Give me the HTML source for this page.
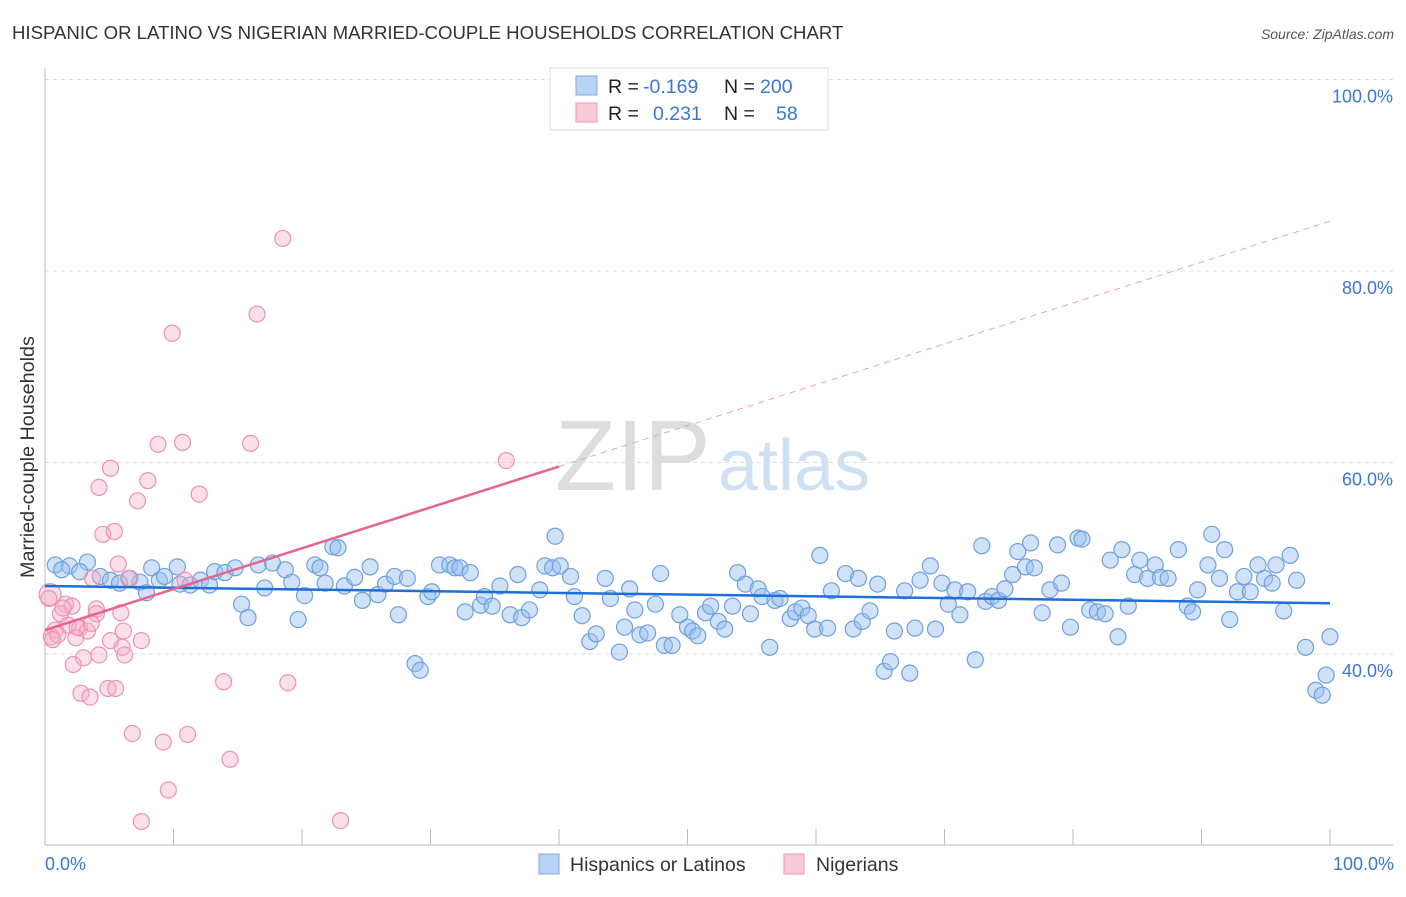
<!DOCTYPE html>
<html><head><meta charset="utf-8"><style>
body{margin:0;background:#fff;font-family:"Liberation Sans",sans-serif;}
svg text{font-family:"Liberation Sans",sans-serif;}
</style></head><body>
<svg id="chart" width="1406" height="892">
<text x="12" y="39" font-size="18.6" fill="#333">HISPANIC OR LATINO VS NIGERIAN MARRIED-COUPLE HOUSEHOLDS CORRELATION CHART</text>
<text x="1394" y="39" font-size="14" fill="#555" text-anchor="end" font-style="italic">Source: ZipAtlas.com</text>
<text x="555" y="490" font-size="100" fill="#ddd" font-family="Liberation Serif">ZIP</text>
<text x="718" y="490" font-size="72" fill="#cfe0f3">atlas</text>
<g id="grid"></g>
<g id="axes"></g>
<g id="pts"></g>
<g id="trends"></g>
<text transform="translate(34,457) rotate(-90)" font-size="19.8" fill="#333" text-anchor="middle">Married-couple Households</text>
<text x="45" y="870" font-size="18" fill="#3a78d0">0.0%</text>
<text x="1394" y="870" font-size="18" fill="#3a78d0" text-anchor="end">100.0%</text>
<g>
<rect x="550" y="68" width="278" height="62" fill="#fff" stroke="#ddd"/>
<rect x="576" y="76" width="21" height="19" fill="#b9d3f5" stroke="#7fa9e3"/>
<rect x="576" y="103" width="21" height="19" fill="#fbc9d8" stroke="#ee9bb4"/>
<text x="608" y="93" font-size="19.5" fill="#222">R = </text><text x="643" y="93" font-size="19.5" fill="#3a78d0">-0.169</text>
<text x="724" y="93" font-size="19.5" fill="#222">N = </text><text x="760" y="93" font-size="19.5" fill="#3a78d0">200</text>
<text x="608" y="120" font-size="19.5" fill="#222">R = </text><text x="653" y="120" font-size="19.5" fill="#3a78d0">0.231</text>
<text x="724" y="120" font-size="19.5" fill="#222">N = </text><text x="776" y="120" font-size="19.5" fill="#3a78d0">58</text>
</g>
<g>
<rect x="539" y="854" width="20" height="20" fill="#b9d3f5" stroke="#7fa9e3"/>
<text x="570" y="871" font-size="19.5" fill="#333">Hispanics or Latinos</text>
<rect x="784" y="854" width="20" height="20" fill="#fbc9d8" stroke="#ee9bb4"/>
<text x="816" y="871" font-size="19.5" fill="#333">Nigerians</text>
</g>
</svg>
<script>
const yTicks=[40,60,80,100];
const yTickLabels=["40.0%","60.0%","80.0%","100.0%"];
const xTicks=[0,10,20,30,40,50,60,70,80,90,100];
const blueX=[0.8,1.9,3.3,2.7,1.3,4.3,5.1,5.8,6.6,7.4,7.9,8.3,8.9,9.3,10.3,10.5,11.3,12.1,12.8,13.2,14.0,14.8,15.3,15.8,16.6,17.1,17.7,18.7,19.2,19.7,20.2,21.0,21.4,22.4,22.8,21.8,23.3,24.1,24.7,25.3,25.9,26.5,27.2,27.5,28.2,28.8,29.2,29.8,30.1,30.7,31.5,31.9,32.3,32.7,33.1,33.9,34.2,34.8,35.4,36.2,36.8,37.1,37.7,38.5,38.9,39.5,39.7,40.1,40.9,41.2,41.8,42.4,42.9,43.6,44.0,44.7,45.1,45.5,45.9,46.3,46.9,47.5,47.9,48.2,48.8,49.4,50.0,50.4,50.8,51.4,51.8,52.4,52.9,53.5,53.9,54.5,54.9,55.5,55.8,56.4,56.8,57.2,58.0,58.4,58.9,59.4,59.9,60.3,60.9,61.2,62.3,62.9,63.3,63.6,64.2,64.8,65.3,65.8,66.1,66.9,67.3,67.7,68.1,68.9,69.3,69.8,70.3,70.8,71.2,71.8,72.4,72.9,73.2,73.7,74.2,74.7,75.3,75.7,76.3,76.7,77.0,77.6,78.2,78.8,79.1,79.8,80.4,80.7,81.3,81.9,82.5,82.9,83.5,83.8,84.3,84.8,85.2,85.8,86.4,86.8,87.4,88.2,88.9,89.3,89.7,90.5,90.8,91.4,91.8,92.2,92.8,93.3,93.8,94.4,94.9,95.5,95.8,96.4,96.9,97.4,98.1,98.9,99.4,99.7,100];
const blueY=[49.3,49.2,49.6,48.6,48.8,48.1,47.7,47.4,47.9,47.5,46.4,49.0,47.7,48.1,49.1,47.3,47.2,47.7,47.2,48.6,48.5,49.0,45.2,43.8,49.3,46.9,49.5,48.8,47.5,43.6,46.1,49.3,49.0,51.2,51.1,47.4,47.1,48.0,45.6,49.1,46.2,47.3,48.1,44.1,47.9,39.0,38.3,46.0,46.5,49.3,49.3,49.0,49.0,44.4,48.5,45.1,46.0,45.0,47.1,44.1,48.3,43.8,44.6,46.7,49.2,49.0,52.3,49.2,48.1,46.0,44.0,41.3,42.1,47.9,45.8,40.2,42.8,46.8,44.6,42.0,42.2,45.2,48.4,40.9,40.9,44.1,42.8,42.4,41.9,44.3,45.0,43.4,42.6,45.0,48.5,47.3,44.2,46.8,46.0,40.7,45.6,45.8,43.7,44.4,44.8,44.0,42.6,50.3,42.7,46.6,48.4,42.6,47.9,43.4,44.5,47.3,38.2,39.2,42.4,46.6,38.0,42.7,47.7,49.2,42.6,47.4,45.2,46.7,44.1,46.5,39.4,51.3,45.5,46.0,45.6,46.8,48.3,50.7,49.1,51.6,49.0,44.3,46.7,51.4,47.4,42.8,52.1,52.0,44.6,44.4,44.2,49.8,41.8,50.9,45.0,48.3,49.8,47.9,49.3,48.0,47.9,50.9,45.0,44.4,46.7,49.3,52.5,47.9,50.9,43.6,46.5,48.1,46.5,49.3,47.9,47.4,49.3,44.5,50.3,47.7,40.7,36.2,35.7,37.8,41.8];
const pinkX=[18.5,16.5,9.9,10.7,8.8,16.0,35.9,5.1,8.0,4.2,12.0,7.2,4.5,5.4,5.7,6.5,10.9,3.7,0.4,1.6,2.1,1.2,4.0,1.8,0.8,0.5,2.7,3.3,5.9,6.1,7.5,5.1,6.0,2.4,4.2,3.0,6.2,2.2,2.8,3.5,4.9,5.5,13.9,18.9,6.8,9.2,11.1,14.4,9.6,7.5,23.0,4.0,1.0,0.6,2.5,1.4,3.6,0.3];
const pinkY=[83.4,75.5,73.5,62.1,61.9,62.0,60.2,59.4,58.1,57.4,56.7,56.0,52.5,52.8,49.4,47.9,47.7,47.9,46.2,45.2,45.0,44.2,44.7,43.0,42.5,41.8,42.7,42.4,44.3,42.4,41.4,41.4,40.7,41.7,39.9,39.6,39.9,38.9,35.9,35.5,36.4,36.4,37.1,37.0,31.7,30.8,31.6,29.0,25.8,22.5,22.6,44.2,42.0,41.5,42.8,44.8,43.2,45.8];
const blueTrend=[47.1,45.3];
const pinkTrend=[42.5,85.2];
const pinkSolidEnd=40;
const NS="http://www.w3.org/2000/svg";
const X=v=>45+v*12.85;
const Y=v=>654-(v-40)*9.575;
function mk(tag,attrs,parent){const e=document.createElementNS(NS,tag);for(const k in attrs)e.setAttribute(k,attrs[k]);parent.appendChild(e);return e;}
const grid=document.getElementById('grid'),axes=document.getElementById('axes'),pts=document.getElementById('pts'),tr=document.getElementById('trends');
yTicks.forEach((t,i)=>{
  const l=mk('line',{x1:45,x2:1393,y1:Y(t),y2:Y(t),stroke:'#ddd','stroke-dasharray':'4,4'},grid);
  
  
  const tx=mk('text',{x:1393,y:Y(t)+23,'font-size':18,fill:'#3a78d0','text-anchor':'end'},grid);
  tx.textContent=yTickLabels[i];
  
  
});
const ya=mk('line',{x1:45,x2:45,y1:68,y2:845,stroke:'#bbb'},axes);


const xa=mk('line',{x1:45,x2:1393,y1:845,y2:845,stroke:'#bbb'},axes);


xTicks.forEach(t=>{
  const l=mk('line',{x1:X(t),x2:X(t),y1:829,y2:845,stroke:'#bbb'},axes);
  
  
});
blueX.forEach((x,i)=>{
  const c=mk('circle',{cx:X(x),cy:Y(blueY[i]),r:8,fill:'rgba(150,190,238,0.45)',stroke:'#6f9fe0','stroke-width':1.2},pts);
  
  
});
pinkX.forEach((x,i)=>{
  const c=mk('circle',{cx:X(x),cy:Y(pinkY[i]),r:i==18?11:8,fill:'rgba(245,175,200,0.4)',stroke:'#ea93b0','stroke-width':1.2},pts);
  
  
});
const bl=mk('line',{x1:X(0),y1:Y(blueTrend[0]),x2:X(100),y2:Y(blueTrend[1]),stroke:'#1f6fd6','stroke-width':2.5},tr);


const pAt=x=>pinkTrend[0]+(pinkTrend[1]-pinkTrend[0])*x/100;
const pl=mk('line',{x1:X(0),y1:Y(pAt(0)),x2:X(pinkSolidEnd),y2:Y(pAt(pinkSolidEnd)),stroke:'#e8638f','stroke-width':2.5},tr);


const pd=mk('line',{x1:X(pinkSolidEnd),y1:Y(pAt(pinkSolidEnd)),x2:X(100),y2:Y(pAt(100)),stroke:'#eba0b8','stroke-width':1,'stroke-dasharray':'6,5'},tr);


</script>
</body></html>
